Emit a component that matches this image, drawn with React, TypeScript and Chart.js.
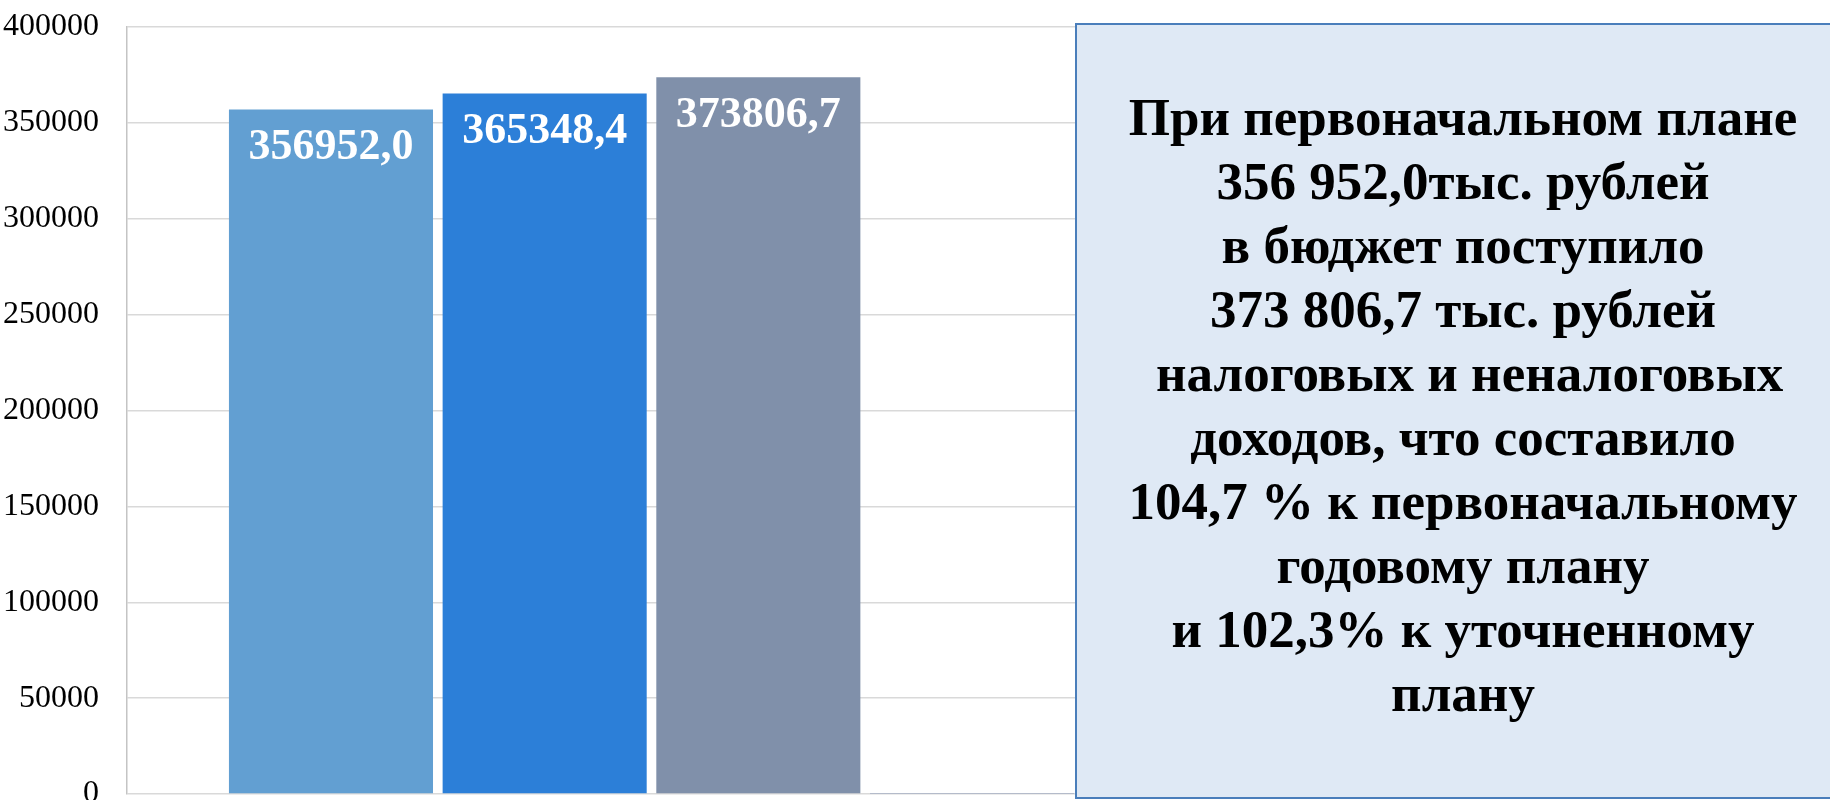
import React, { useEffect, useRef } from "react";
import { Chart, registerables } from "chart.js";

Chart.register(...registerables);

const categories = [""];
const seriesNames = ["Первоначальный план", "Уточненный план", "Исполнено", "Прочее"];
const seriesValues = [356952.0, 365348.4, 373806.7, 500];
const valueLabels = ["356952,0", "365348,4", "373806,7", ""];
const seriesColors = ["#629fd2", "#2c7fd8", "#8090aa", "#4a65a0"];
const yTicks = [0, 50000, 100000, 150000, 200000, 250000, 300000, 350000, 400000];

const noteLines = [
  "При первоначальном плане",
  "356 952,0тыс. рублей",
  "в бюджет поступило",
  "373 806,7 тыс. рублей",
  " налоговых и неналоговых",
  "доходов, что составило",
  "104,7 % к первоначальному",
  "годовому плану",
  "и 102,3% к уточненному",
  "плану",
];

const labelPlugin = {
  id: "barLabels",
  afterDatasetsDraw(chart: any) {
    const ctx = chart.ctx;
    ctx.save();
    ctx.font = "bold 44px 'Liberation Serif', 'Times New Roman', serif";
    ctx.fillStyle = "#ffffff";
    ctx.textAlign = "center";
    ctx.textBaseline = "middle";
    chart.data.datasets.forEach((ds: any, i: number) => {
      const meta = chart.getDatasetMeta(i);
      const text = valueLabels[i];
      if (!text) return;
      meta.data.forEach((bar: any) => {
        ctx.fillText(text, bar.x, bar.y + 38);
      });
    });
    ctx.restore();
  },
};

export default function App() {
  const ref = useRef<HTMLCanvasElement | null>(null);
  useEffect(() => {
    document.body.style.margin = "0";
    document.body.style.overflow = "hidden";
    const chart = new Chart(ref.current as HTMLCanvasElement, {
      type: "bar",
      data: {
        labels: categories,
        datasets: seriesNames.map((name, i) => ({
          label: name,
          data: [seriesValues[i]],
          backgroundColor: seriesColors[i],
          borderWidth: 0,
          categoryPercentage: 0.8148,
          barPercentage: 0.955,
        })),
      },
      options: {
        animation: false,
        responsive: false,
        maintainAspectRatio: false,
        layout: { padding: { left: 0, right: 654, top: 27, bottom: 36 } },
        plugins: { legend: { display: false }, tooltip: { enabled: false } },
        scales: {
          x: {
            display: false,
          },
          y: {
            min: 0,
            max: 400000,
            afterBuildTicks(scale: any) {
              scale.ticks = yTicks.map((v) => ({ value: v }));
            },
            afterFit(scale: any) {
              scale.width = 127;
              scale.paddingTop = 0;
              scale.paddingBottom = 0;
            },
            ticks: {
              padding: 28,
              color: "#000000",
              font: { family: "'Liberation Serif', 'Times New Roman', serif", size: 32 },
              callback: (v: any) => String(v),
            },
            grid: { color: "#d9d9d9", lineWidth: 1.5, drawTicks: false },
            border: { display: true, color: "#c4c4c4", width: 1.5 },
          },
        },
      },
      plugins: [labelPlugin],
    });
    return () => chart.destroy();
  }, []);

  return (
    <div
      style={{
        position: "fixed",
        left: 0,
        top: 0,
        width: 1830,
        height: 800,
        overflow: "hidden",
        background: "#ffffff",
      }}
    >
      <canvas ref={ref} width={1830} height={830} style={{ position: "absolute", left: 0, top: 0, width: 1830, height: 830 }} />
      <div
        style={{
          position: "absolute",
          left: 1075,
          top: 23,
          width: 776,
          height: 776,
          boxSizing: "border-box",
          border: "2px solid #4a7ebb",
          background: "#dfe9f5",
          paddingTop: 60,
          fontFamily: "'Liberation Serif', 'Times New Roman', serif",
          fontWeight: "bold",
          fontSize: 53,
          lineHeight: "64px",
          textAlign: "center",
          color: "#000000",
          whiteSpace: "pre",
        }}
      >
        {noteLines.map((l, i) => (
          <div key={i}>{l}</div>
        ))}
      </div>
    </div>
  );
}
